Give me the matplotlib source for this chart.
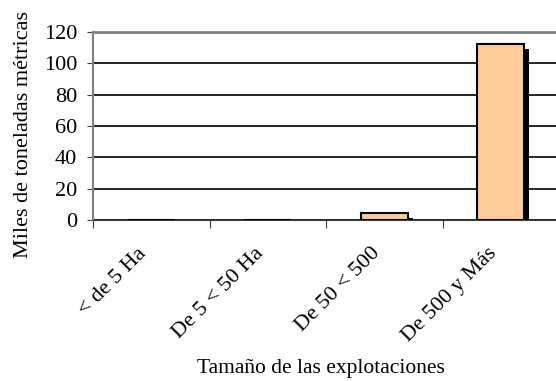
import matplotlib.pyplot as plt
import matplotlib
import matplotlib.patheffects as pe
import matplotlib.transforms as mtransforms
import numpy as np

matplotlib.rcParams['font.family'] = ['Liberation Serif', 'DejaVu Serif']

categorias = ['< de 5 Ha', 'De 5 < 50 Ha', 'De 50 < 500', 'De 500 y Más']
valores = [0.3, 0.3, 4.6, 112.5]

index = np.arange(len(categorias))

fig = plt.figure(figsize=(5.56, 3.81), dpi=100)
ax = fig.add_axes([93/556, 1-220/381, 466/556, 188/381])

bars = ax.bar(index, valores, width=0.4, color='#FFCC99', edgecolor='black',
              linewidth=1.5, zorder=3)
for b in bars:
    b.set_path_effects([pe.SimplePatchShadow(offset=(3.6, -3.6), shadow_rgbFace='black', alpha=1.0),
                        pe.Normal()])

ax.set_ylim(0, 120)
ax.set_xlim(-0.5, 3.5)
ax.set_yticks(np.arange(0, 140, 20))
ax.yaxis.grid(True, color='black', linewidth=1.2, zorder=0)
ax.set_axisbelow(True)

# ticks at category borders, labels written at centres
ax.set_xticks(np.arange(-0.5, 4, 1))
ax.set_xticklabels([])
ax.tick_params(axis='x', which='major', length=6, direction='out', color='#404040')
ax.tick_params(axis='y', length=4.3, direction='out', labelsize=16, color='#404040', pad=7)

shift = mtransforms.ScaledTranslation(-14/100, -24/100, fig.dpi_scale_trans)
for i in range(len(categorias)):
    ax.text(index[i], 0, categorias[i], transform=ax.get_xaxis_transform() + shift,
            rotation=45, ha='right', va='top', rotation_mode='anchor', fontsize=16)

ax.spines['right'].set_visible(False)
ax.spines['top'].set_color('#808080')
ax.spines['top'].set_linewidth(2)
ax.spines['left'].set_color('#808080')
ax.spines['left'].set_linewidth(1.5)
ax.spines['bottom'].set_color('#404040')

fig.text(321/556, 1-368/381, 'Tamaño de las explotaciones', fontsize=15.5,
         ha='center', va='center')
fig.text(24/556, 1-135/381, 'Miles de toneladas métricas', fontsize=16,
         ha='center', va='center', rotation=90)

fig.savefig('out.png', dpi=100)
